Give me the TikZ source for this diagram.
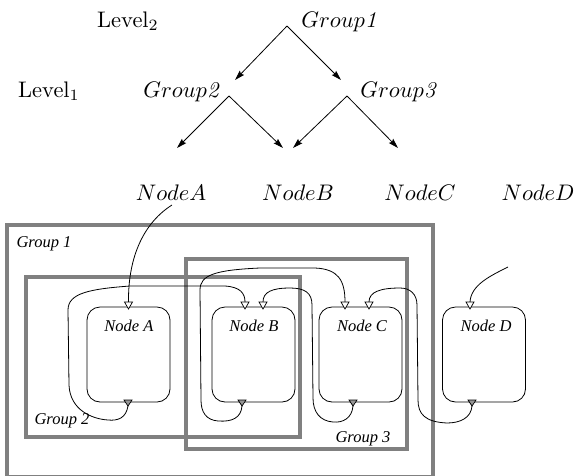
\documentclass[tikz,border=0pt]{standalone}
\usepackage{fontspec}
\newfontfamily\timesfont{Liberation Serif}
\usetikzlibrary{arrows.meta}
\definecolor{boxgray}{RGB}{128,128,128}
\definecolor{portgray}{RGB}{150,150,150}
\tikzset{
  toplbl/.style={anchor=base, inner sep=0pt, scale=2.25},
  treearrow/.style={line width=0.8pt, -{Stealth[length=10pt,width=6pt,inset=1.5pt]}},
  groupbox/.style={draw=boxgray, line width=4pt},
  grplbl/.style={anchor=base, inner sep=0pt, font=\timesfont\itshape\fontsize{16.5}{19}\selectfont},
  modbox/.style={draw, line width=0.8pt, rounded corners=13pt, minimum width=83pt, minimum height=95pt, inner sep=0pt},
  wire/.style={line width=0.8pt},
  inport/.pic={\draw[fill=white, line width=0.7pt] (-4,0) -- (4,0) -- (0,7) -- cycle;},
  outport/.pic={\draw[fill=portgray, line width=0.7pt] (-4,0) -- (4,0) -- (0,6) -- cycle;}
}
\begin{document}
\begin{tikzpicture}[x=1pt, y=-1pt]
\useasboundingbox (0,0) rectangle (576,475);

% ---------- tree ----------
\node[toplbl] (lev2) at (128,27) {Level$_2$};
\node[toplbl] (lev1) at (49,97) {Level$_1$};
\node[toplbl] (g1) at (339,27) {$Group\mathit{1}$};
\node[toplbl] (g2) at (181,97) {$Group\mathit{2}$};
\node[toplbl] (g3) at (398,97) {$Group\mathit{3}$};
\node[toplbl] (tA) at (171,200) {$NodeA$};
\node[toplbl] (tB) at (298,200) {$NodeB$};
\node[toplbl] (tC) at (420,200) {$NodeC$};
\node[toplbl] (tD) at (538,200) {$NodeD$};

\coordinate (g1apex) at (287,26);
\coordinate (g2end) at (235,80);
\coordinate (g3end) at (341,80);
\coordinate (g2apex) at (229,96);
\coordinate (g3apex) at (347,96);
\coordinate (aend) at (177,148);
\coordinate (bend1) at (283,148);
\coordinate (bend2) at (293,148);
\coordinate (cend) at (398,148);

\draw[treearrow] (g1apex) -- (g2end);
\draw[treearrow] (g1apex) -- (g3end);
\draw[treearrow] (g2apex) -- (aend);
\draw[treearrow] (g2apex) -- (bend1);
\draw[treearrow] (g3apex) -- (bend2);
\draw[treearrow] (g3apex) -- (cend);

% ---------- groups ----------
\draw[groupbox] (7,225) rectangle (433,476.5);
\draw[groupbox] (26,277) rectangle (300,437);
\draw[groupbox] (186,259) rectangle (407,449);
\node[grplbl] (lg1) at (44,247) {Group 1};
\node[grplbl] (lg2) at (62,424) {Group 2};
\node[grplbl] (lg3) at (363,442) {Group 3};

% ---------- modules ----------
\node[modbox] (nA) at (128.5,354.5) {};
\node[modbox] (nB) at (253.5,354.5) {};
\node[modbox] (nC) at (360.5,354.5) {};
\node[modbox] (nD) at (484,354.5) {};
\node[grplbl] (lA) at (129,331) {Node A};
\node[grplbl] (lB) at (254,331) {Node B};
\node[grplbl] (lC) at (362,331) {Node C};
\node[grplbl] (lD) at (486,331) {Node D};

% ports
\coordinate (ainp) at (128.5,302);
\coordinate (binp1) at (245,302);
\coordinate (binp2) at (263,302);
\coordinate (cinp1) at (345,302);
\coordinate (cinp2) at (369,302);
\coordinate (dinp) at (470,302);
\coordinate (aoutb) at (128,400);
\coordinate (boutb) at (242,400);
\coordinate (coutb) at (353,400);
\coordinate (doutb) at (472,400);
\coordinate (aout) at (128,406);
\coordinate (bout) at (242,406);
\coordinate (cout) at (353,406);
\coordinate (dout) at (472,406);
\coordinate (dfree) at (508,267);
\coordinate (tAfoot) at (172,205);

% wires
\draw[wire] (tAfoot) .. controls (145,222) and (128,255) .. (ainp);
\draw[wire] (aout) .. controls (126,418) and (118,421) .. (108,420) .. controls (92,419) and (70,410) .. (69,385) -- (68,310) .. controls (68,293) and (90,289) .. (130,286) -- (225,286) .. controls (240,287) and (245,293) .. (binp1);
\draw[wire] (bout) .. controls (241,418) and (232,422) .. (218,421) .. controls (206,420) and (201,412) .. (201,400) -- (200,290) .. controls (200,275) and (215,270) .. (260,268) -- (315,268) .. controls (338,269) and (345,280) .. (cinp1);
\draw[wire] (cout) .. controls (352,418) and (343,423) .. (333,422) .. controls (320,421) and (313,412) .. (313,398) -- (312,305) .. controls (312,293) and (305,288) .. (290,288) .. controls (272,288) and (263,292) .. (binp2);
\draw[wire] (dout) .. controls (471,418) and (460,423) .. (447,423) .. controls (425,422) and (418,414) .. (418,400) -- (417,305) .. controls (417,294) and (410,288) .. (400,288) .. controls (380,288) and (369,292) .. (cinp2);
\draw[wire] (dfree) .. controls (490,276) and (471,285) .. (dinp);

\pic at (ainp) {inport};
\pic at (binp1) {inport};
\pic at (binp2) {inport};
\pic at (cinp1) {inport};
\pic at (cinp2) {inport};
\pic at (dinp) {inport};
\pic at (aoutb) {outport};
\pic at (boutb) {outport};
\pic at (coutb) {outport};
\pic at (doutb) {outport};
\end{tikzpicture}
\end{document}
